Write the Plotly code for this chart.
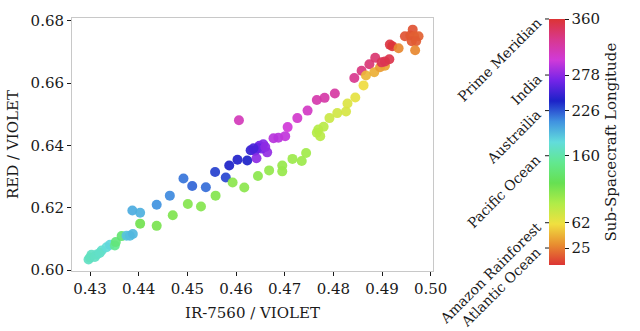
import plotly.graph_objects as go

# ---------------- data ----------------
ir_violet = [0.4297, 0.4303, 0.4300, 0.4314, 0.4310, 0.4324, 0.4320, 0.4334, 0.4341, 0.4351,
             0.4353, 0.4365, 0.4375, 0.4382, 0.4388, 0.4387, 0.4403, 0.4403, 0.4437, 0.4437,
             0.4470, 0.4464, 0.4501, 0.4492, 0.4510, 0.4528, 0.4538, 0.4558, 0.4557, 0.4579,
             0.4593, 0.4586, 0.4617, 0.4603, 0.4623, 0.4606, 0.4630, 0.4639, 0.4648, 0.4656,
             0.4642, 0.4664, 0.4652, 0.4645, 0.4660, 0.4636, 0.4645, 0.4668, 0.4677, 0.4687,
             0.4701, 0.4706, 0.4695, 0.4695, 0.4726, 0.4716, 0.4735, 0.4744, 0.4747, 0.4766,
             0.4769, 0.4773, 0.4780, 0.4766, 0.4782, 0.4803, 0.4792, 0.4808, 0.4826, 0.4829,
             0.4845, 0.4843, 0.4858, 0.4874, 0.4886, 0.4862, 0.4867, 0.4884, 0.4896, 0.4906,
             0.4899, 0.4906, 0.4915, 0.4916, 0.4921, 0.4934, 0.4947, 0.4958, 0.4963, 0.4966,
             0.4961, 0.4975, 0.4970, 0.4968]
red_violet = [0.6034, 0.6049, 0.6040, 0.6050, 0.6042, 0.6063, 0.6055, 0.6073, 0.6081, 0.6079,
              0.6090, 0.6109, 0.6110, 0.6110, 0.6116, 0.6191, 0.6184, 0.6149, 0.6142, 0.6210,
              0.6176, 0.6239, 0.6212, 0.6294, 0.6270, 0.6204, 0.6266, 0.6239, 0.6315, 0.6297,
              0.6281, 0.6336, 0.6265, 0.6354, 0.6352, 0.6481, 0.6385, 0.6383, 0.6399, 0.6404,
              0.6359, 0.6378, 0.6390, 0.6392, 0.6395, 0.6391, 0.6302, 0.6320, 0.6423, 0.6425,
              0.6430, 0.6459, 0.6336, 0.6317, 0.6488, 0.6357, 0.6350, 0.6376, 0.6512, 0.6441,
              0.6451, 0.6430, 0.6460, 0.6546, 0.6553, 0.6567, 0.6488, 0.6504, 0.6509, 0.6535,
              0.6554, 0.6617, 0.6640, 0.6661, 0.6682, 0.6593, 0.6625, 0.6635, 0.6651, 0.6656,
              0.6667, 0.6670, 0.6677, 0.6724, 0.6719, 0.6712, 0.6751, 0.6753, 0.6772, 0.6751,
              0.6735, 0.6751, 0.6735, 0.6706]
longitude = [170, 170, 168, 172, 170, 175, 172, 178, 182, 150,
             140, 135, 190, 192, 195, 200, 198, 115, 112, 210,
             110, 212, 108, 218, 222, 108, 220, 108, 232, 230,
             105, 240, 105, 242, 240, 312, 248, 258, 268, 275,
             278, 280, 272, 265, 278, 255, 105, 102, 292, 292,
             295, 300, 100, 100, 305, 98, 98, 96, 308, 88,
             88, 86, 86, 318, 320, 322, 78, 75, 72, 70,
             65, 330, 335, 338, 340, 58, 45, 42, 35, 38,
             348, 350, 352, 355, 358, 28, 10, 12, 10, 14,
             12, 15, 13, 28]

cb_tickvals = [25, 62, 160, 226, 278, 360]
cb_ticktext = ["25", "62", "160", "226", "278", "360"]
place_names = ["Atlantic Ocean", "Amazon Rainforest", "Pacific Ocean", "Austrailia", "India", "Prime Meridian"]

x_ticks = [0.43, 0.44, 0.45, 0.46, 0.47, 0.48, 0.49, 0.50]
y_ticks = [0.60, 0.62, 0.64, 0.66, 0.68]

# ---------------- styling ----------------
W, H = 640, 331
ML, MR, MT, MB = 72, 207, 13, 60
FONT = "DejaVu Serif"
FS = 15
FS_PLACE = 14
TXT = "#1a1a1a"

colorscale = [
    [0.0000, "#dc3434"],
    [0.0833, "#e88e30"],
    [0.1667, "#f0e040"],
    [0.2500, "#b0ec48"],
    [0.3333, "#66e052"],
    [0.4167, "#62e890"],
    [0.5000, "#62dcdc"],
    [0.5833, "#4092e0"],
    [0.6667, "#1c22c8"],
    [0.7500, "#7424e8"],
    [0.8333, "#d03ad8"],
    [0.9167, "#d8388e"],
    [1.0000, "#dc3434"],
]

plot_w = W - ML - MR
plot_h = H - MT - MB


def px_to_paper_x(px):
    return (px - ML) / plot_w


def px_to_paper_y(py):
    return (H - MB - py) / plot_h


# colorbar geometry (pixels)
CB_LEFT, CB_THICK = 549, 16
CB_TOP, CB_BOTTOM = 14, 265
CB_MIN, CB_MAX = 0, 360

fig = go.Figure()
fig.add_trace(go.Scatter(
    x=ir_violet, y=red_violet, mode="markers",
    marker=dict(
        size=10, color=longitude, colorscale=colorscale, cmin=CB_MIN, cmax=CB_MAX,
        opacity=0.92, line=dict(width=0),
        colorbar=dict(
            xref="container",
            x=CB_LEFT / W, xanchor="left",
            y=px_to_paper_y(CB_BOTTOM), yanchor="bottom",
            len=(CB_BOTTOM - CB_TOP) / plot_h, lenmode="fraction",
            thickness=CB_THICK, thicknessmode="pixels",
            xpad=0, ypad=0, outlinewidth=0,
            tickvals=cb_tickvals, ticktext=cb_ticktext,
            ticks="outside", ticklen=4, tickwidth=1, tickcolor=TXT,
            tickfont=dict(family=FONT, size=FS, color=TXT),
            title=dict(text="Sub-Spacecraft Longitude", side="right",
                       font=dict(family=FONT, size=FS, color=TXT)),
        ),
    ),
    showlegend=False,
))

axis_common = dict(
    showgrid=False, zeroline=False, showline=True, mirror=True,
    linecolor="#c8c8c8", linewidth=1,
    ticks="outside", ticklen=4, tickwidth=1, tickcolor=TXT,
    tickfont=dict(family=FONT, size=FS, color=TXT),
)

fig.update_layout(
    width=W, height=H,
    margin=dict(l=ML, r=MR, t=MT, b=MB),
    paper_bgcolor="white", plot_bgcolor="white",
    xaxis=dict(range=[0.42630, 0.50047], tickvals=x_ticks, tickformat=".2f",
               title=dict(text="IR-7560 / VIOLET", standoff=10,
                          font=dict(family=FONT, size=FS, color=TXT)),
               **axis_common),
    yaxis=dict(range=[0.5997, 0.68094], tickvals=y_ticks, tickformat=".2f",
               title=dict(text="RED / VIOLET", standoff=8,
                          font=dict(family=FONT, size=FS, color=TXT)),
               **axis_common),
)

# left-side colorbar ticks and rotated place names
for val, name in zip(cb_tickvals, place_names):
    ty = CB_BOTTOM - (val - CB_MIN) / (CB_MAX - CB_MIN) * (CB_BOTTOM - CB_TOP)
    fig.add_shape(type="line", xref="paper", yref="paper",
                  x0=px_to_paper_x(CB_LEFT - 4), x1=px_to_paper_x(CB_LEFT),
                  y0=px_to_paper_y(ty), y1=px_to_paper_y(ty),
                  line=dict(color=TXT, width=1))
    fig.add_annotation(text=name, xref="paper", yref="paper",
                       x=px_to_paper_x(CB_LEFT - 5), y=px_to_paper_y(ty - 4),
                       xanchor="right", yanchor="top", textangle=-45,
                       borderpad=0, borderwidth=0,
                       showarrow=False,
                       font=dict(family=FONT, size=FS_PLACE, color=TXT))

fig.write_html("out.html")
